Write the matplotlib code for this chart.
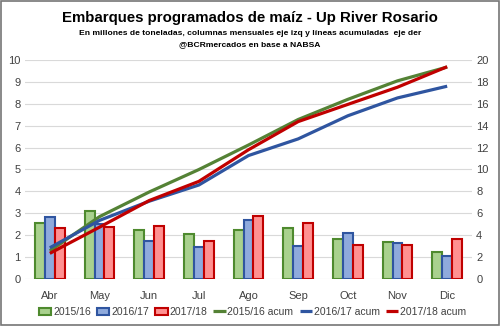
import matplotlib
matplotlib.use("Agg")
import matplotlib.pyplot as plt
from matplotlib.patches import Rectangle
import numpy as np

months = ["Abr", "May", "Jun", "Jul", "Ago", "Sep", "Oct", "Nov", "Dic"]
m1516 = [2.57, 3.12, 2.25, 2.05, 2.24, 2.33, 1.84, 1.69, 1.22]
m1617 = [2.85, 2.50, 1.75, 1.48, 2.69, 1.52, 2.11, 1.63, 1.04]
m1718 = [2.34, 2.39, 2.43, 1.75, 2.89, 2.57, 1.57, 1.57, 1.84]
a1516 = [2.57, 5.69, 7.94, 9.99, 12.23, 14.56, 16.40, 18.09, 19.35]
a1617 = [2.85, 5.35, 7.10, 8.58, 11.27, 12.79, 14.90, 16.53, 17.60]
a1718 = [2.34, 4.73, 7.16, 8.91, 11.80, 14.37, 15.94, 17.51, 19.38]
series_labels = ["2015/16", "2016/17", "2017/18",
                 "2015/16 acum", "2016/17 acum", "2017/18 acum"]

plt.rcParams['font.family'] = ['Liberation Sans', 'DejaVu Sans']

fig = plt.figure(figsize=(5.0, 3.26), dpi=100)
ax = fig.add_axes([0.05, 0.1442, 0.894, 0.672])
ax2 = ax.twinx()

x = np.arange(len(months))
w = 0.2
fills = ["#A9D18E", "#8FAADC", "#FF9191"]
edges = ["#4E8A2E", "#2F55A0", "#C00000"]
for i, (vals, fc, ec, lab) in enumerate(zip([m1516, m1617, m1718], fills, edges, series_labels[:3])):
    ax.bar(x + (i - 1) * w, vals, w, color=fc, edgecolor=ec, linewidth=1.5, label=lab, zorder=3)

for vals, c, lab in zip([a1516, a1617, a1718], ["#548235", "#2F55A0", "#C00000"], series_labels[3:]):
    ax2.plot(x, vals, color=c, linewidth=2.3, label=lab, solid_capstyle='butt')

ax.set_ylim(0, 10)
ax2.set_ylim(0, 20)
ax.set_xlim(-0.5, len(months) - 0.5)
ax.set_yticks(range(0, 11))
ax2.set_yticks(range(0, 21, 2))
ax.set_xticks(x)
ax.set_xticklabels(months)
ax.grid(axis='y', color='#D9D9D9', linewidth=0.8, zorder=0)
ax.set_axisbelow(True)
for a in (ax, ax2):
    for s in a.spines.values():
        s.set_visible(False)
    a.tick_params(length=0, labelsize=8, colors='#404040')
ax.tick_params(axis='x', pad=9)
ax.tick_params(axis='y', pad=3)
ax2.tick_params(axis='y', pad=3)

h1, l1 = ax.get_legend_handles_labels()
h2, l2 = ax2.get_legend_handles_labels()
fig.legend(h1 + h2, l1 + l2, loc='center', bbox_to_anchor=(0.505, 0.043), ncol=6,
           frameon=False, fontsize=7.5, handlelength=1.2, handletextpad=0.15,
           columnspacing=0.6, labelcolor='#404040')

fig.text(0.5, 0.945, "Embarques programados de maíz - Up River Rosario", ha='center', va='center',
         fontsize=10.8, fontweight='bold')
fig.text(0.5, 0.897, "En millones de toneladas, columnas mensuales eje izq y líneas acumuladas  eje der",
         ha='center', va='center', fontsize=6.1, fontweight='bold')
fig.text(0.5, 0.864, "@BCRmercados en base a NABSA", ha='center', va='center', fontsize=6.1,
         fontweight='bold')

fig.patches.append(Rectangle((0.002, 0.003), 0.996, 0.994, transform=fig.transFigure,
                             fill=False, edgecolor='#767676', linewidth=1.2))

fig.savefig("out.png", dpi=100)
